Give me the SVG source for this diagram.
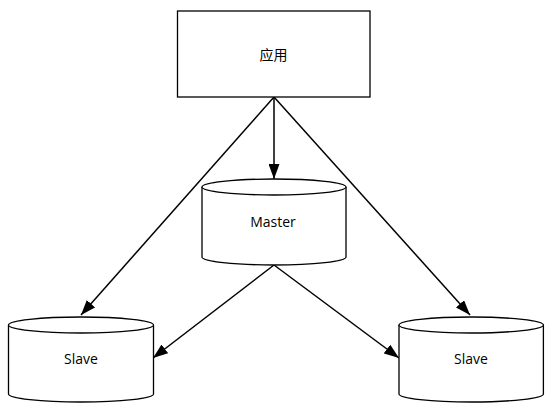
<svg xmlns="http://www.w3.org/2000/svg" width="558" height="413" viewBox="0 0 558 413">
<style>
.shape{fill:#fff;stroke:#000;stroke-width:1.3}
.edge{fill:none;stroke:#000;stroke-width:1.5}
.lbl{font-family:"Open Sans","Noto Sans CJK SC",sans-serif;font-size:14px;fill:#000;text-anchor:middle;dominant-baseline:central}
</style>
<defs>
<marker id="ah" viewBox="0 0 15 11" refX="15" refY="5.5" markerWidth="15" markerHeight="11" markerUnits="userSpaceOnUse" orient="auto">
<path d="M0,0 L15,5.5 L0,11 z" fill="#000"/>
</marker>
</defs>
<rect width="558" height="413" fill="#fff"/>
<g id="edges">
<path class="edge" d="M274,97 L274,179" marker-end="url(#ah)"/>
<path class="edge" d="M274,97 L81,315" marker-end="url(#ah)"/>
<path class="edge" d="M274,97 L470,315" marker-end="url(#ah)"/>
<path class="edge" d="M274,265 L153,358" marker-end="url(#ah)"/>
<path class="edge" d="M274,265 L399,358" marker-end="url(#ah)"/>
</g>
<g id="app">
<rect class="shape" x="177.5" y="11" width="192.5" height="86"/>
<text class="lbl" x="273.5" y="54">应用</text>
</g>
<g id="master">
<path class="shape" d="M202,187 A72,8 0 0 1 346,187 L346,257 A72,8 0 0 1 202,257 Z"/>
<path class="shape" d="M202,187 A72,8 0 0 0 346,187" fill="none"/>
<text class="lbl" x="273" y="221">Master</text>
</g>
<g id="slave1">
<path class="shape" d="M8.5,325 A72.5,8 0 0 1 153.5,325 L153.5,394 A72.5,8 0 0 1 8.5,394 Z"/>
<path class="shape" d="M8.5,325 A72.5,8 0 0 0 153.5,325" fill="none"/>
<text class="lbl" x="81" y="358">Slave</text>
</g>
<g id="slave2">
<path class="shape" d="M399,325 A72.2,8 0 0 1 543.4,325 L543.4,394 A72.2,8 0 0 1 399,394 Z"/>
<path class="shape" d="M399,325 A72.2,8 0 0 0 543.4,325" fill="none"/>
<text class="lbl" x="471" y="358">Slave</text>
</g>
</svg>
